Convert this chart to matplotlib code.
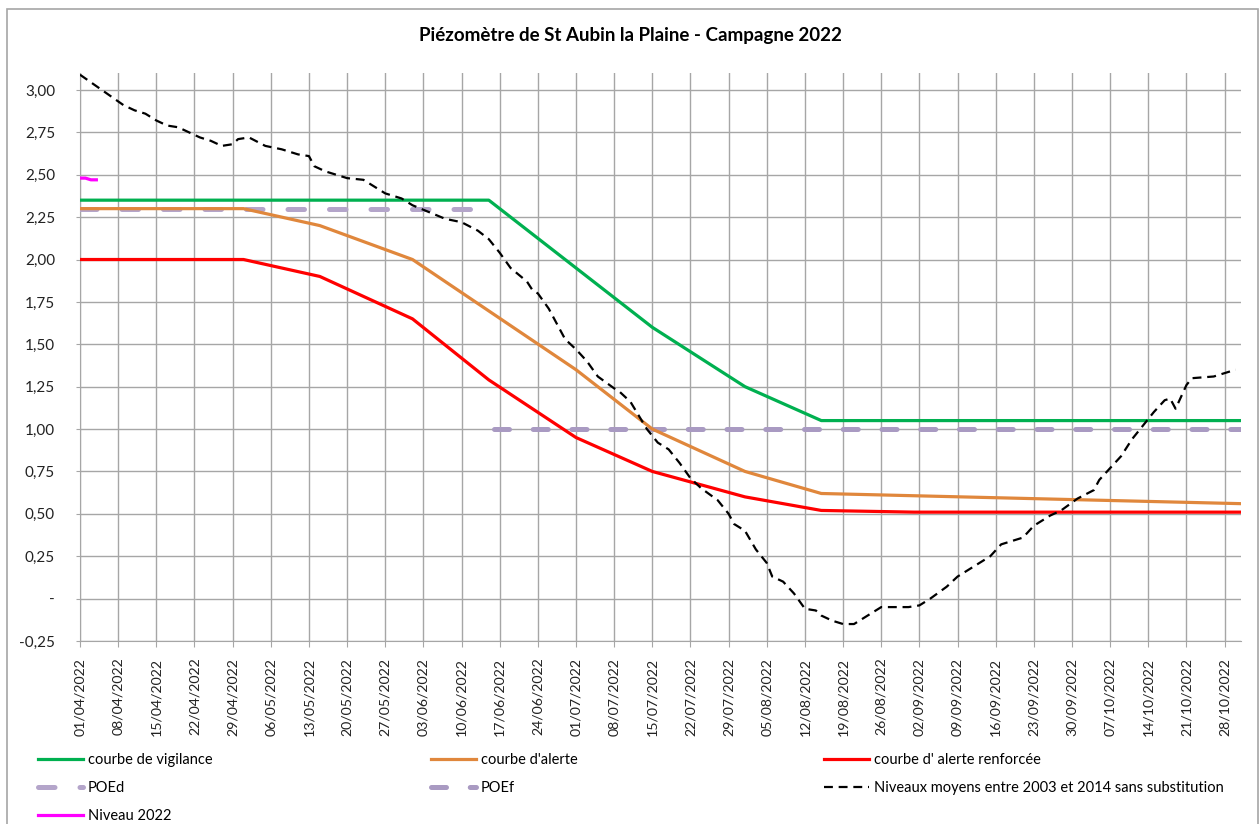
import pandas as pd
import matplotlib
matplotlib.use("Agg")
import matplotlib.pyplot as plt
import matplotlib.dates as mdates
from matplotlib.patches import Rectangle
from matplotlib.ticker import FuncFormatter, MultipleLocator

plt.rcParams['font.family'] = ['Lato', 'DejaVu Sans']

TITLE = "Piézomètre de St Aubin la Plaine - Campagne 2022"
START = "2022-04-01"
END = "2022-10-31"

# courbe de vigilance
vig_dates = ["2022-04-01", "2022-06-15", "2022-07-01", "2022-07-15", "2022-08-01", "2022-08-15", "2022-10-31"]
vig_vals = [2.35, 2.35, 1.95, 1.60, 1.25, 1.05, 1.05]

# courbe d'alerte
alerte_dates = ["2022-04-01", "2022-05-01", "2022-05-15", "2022-06-01", "2022-07-01", "2022-07-15", "2022-08-01", "2022-08-15", "2022-10-31"]
alerte_vals = [2.30, 2.30, 2.20, 2.00, 1.35, 1.00, 0.75, 0.62, 0.56]

# courbe d' alerte renforcée
renf_dates = ["2022-04-01", "2022-05-01", "2022-05-15", "2022-06-01", "2022-06-15", "2022-07-01", "2022-07-15", "2022-08-01", "2022-08-15", "2022-09-01", "2022-10-31"]
renf_vals = [2.00, 2.00, 1.90, 1.65, 1.29, 0.95, 0.75, 0.60, 0.52, 0.51, 0.51]

# POEd / POEf
poed_dates = ["2022-04-01", "2022-06-15"]
poed_vals = [2.30, 2.30]
poef_dates = ["2022-06-16", "2022-10-31"]
poef_vals = [1.00, 1.00]

# Niveau 2022
niv_dates = ["2022-04-01", "2022-04-02", "2022-04-03", "2022-04-04"]
niv_vals = [2.48, 2.48, 2.47, 2.47]

# Niveaux moyens entre 2003 et 2014 sans substitution
moy_dates = [
    "2022-04-01", "2022-04-05", "2022-04-09", "2022-04-11", "2022-04-13", "2022-04-15", "2022-04-17",
    "2022-04-19", "2022-04-21", "2022-04-23", "2022-04-25", "2022-04-27", "2022-04-29", "2022-04-30",
    "2022-05-02", "2022-05-05", "2022-05-08", "2022-05-11", "2022-05-13", "2022-05-14", "2022-05-16",
    "2022-05-17", "2022-05-20", "2022-05-23", "2022-05-25", "2022-05-27", "2022-05-30", "2022-06-01",
    "2022-06-04", "2022-06-07", "2022-06-10", "2022-06-13", "2022-06-15", "2022-06-17", "2022-06-19",
    "2022-06-22", "2022-06-23", "2022-06-24", "2022-06-26", "2022-06-29", "2022-07-01", "2022-07-03",
    "2022-07-05", "2022-07-08", "2022-07-09", "2022-07-11", "2022-07-14", "2022-07-16", "2022-07-18",
    "2022-07-20", "2022-07-22", "2022-07-24", "2022-07-27", "2022-07-29", "2022-07-30", "2022-08-01",
    "2022-08-03", "2022-08-05", "2022-08-06", "2022-08-08", "2022-08-10", "2022-08-12", "2022-08-14",
    "2022-08-15", "2022-08-17", "2022-08-19", "2022-08-21", "2022-08-24", "2022-08-26", "2022-08-28",
    "2022-08-31", "2022-09-02", "2022-09-04", "2022-09-07", "2022-09-09", "2022-09-12", "2022-09-15",
    "2022-09-17", "2022-09-21", "2022-09-23", "2022-09-26", "2022-09-28", "2022-10-01", "2022-10-04",
    "2022-10-05", "2022-10-07", "2022-10-09", "2022-10-11", "2022-10-13", "2022-10-15", "2022-10-17",
    "2022-10-18", "2022-10-19", "2022-10-21", "2022-10-22", "2022-10-26", "2022-10-29", "2022-10-30",
]
moy_vals = [
    3.09, 3.00, 2.91, 2.88, 2.86, 2.82, 2.79,
    2.78, 2.75, 2.72, 2.70, 2.67, 2.68, 2.71,
    2.72, 2.67, 2.65, 2.62, 2.61, 2.55, 2.52,
    2.51, 2.48, 2.47, 2.43, 2.39, 2.36, 2.32,
    2.28, 2.24, 2.22, 2.17, 2.12, 2.04, 1.95,
    1.87, 1.82, 1.80, 1.71, 1.53, 1.47, 1.40,
    1.31, 1.24, 1.22, 1.16, 1.00, 0.92, 0.88,
    0.80, 0.71, 0.65, 0.58, 0.50, 0.44, 0.40,
    0.29, 0.21, 0.13, 0.10, 0.03, -0.06, -0.07,
    -0.10, -0.13, -0.15, -0.15, -0.09, -0.05, -0.05,
    -0.05, -0.04, 0.00, 0.07, 0.13, 0.19, 0.25,
    0.32, 0.36, 0.43, 0.49, 0.52, 0.59, 0.64,
    0.70, 0.77, 0.84, 0.94, 1.02, 1.10, 1.17,
    1.18, 1.12, 1.26, 1.30, 1.31, 1.34, 1.35,
]

d = pd.to_datetime

fig = plt.figure(figsize=(12.6, 8.24), dpi=100)
ax = fig.add_axes([80 / 1260, 1 - 641 / 824, 1161 / 1260, 568 / 824])

grid_col = '#A6A6A6'

h_vig, = ax.plot(d(vig_dates), vig_vals, color='#00B050', lw=2.3, label='courbe de vigilance', zorder=4)
h_al, = ax.plot(d(alerte_dates), alerte_vals, color='#E0873C', lw=2.3, label="courbe d'alerte", zorder=4)
h_renf, = ax.plot(d(renf_dates), renf_vals, color='#FF0000', lw=2.3, label="courbe d' alerte renforcée", zorder=4)
h_poed, = ax.plot(d(poed_dates), poed_vals, color='#B4A5CA', lw=3.6, linestyle=(0, (3.3, 5.0)),
                  dash_capstyle='round', label='POEd', zorder=3)
h_poef, = ax.plot(d(poef_dates), poef_vals, color='#A99AC2', lw=3.6, linestyle=(0, (3.0, 4.75)),
                  dash_capstyle='round', label='POEf', zorder=3)
h_moy, = ax.plot(d(moy_dates), moy_vals, color='black', lw=1.6, linestyle=(0, (4, 2.6)),
                 label='Niveaux moyens entre 2003 et 2014 sans substitution', zorder=5)
h_niv, = ax.plot(d(niv_dates), niv_vals, color='#FF00FF', lw=2.3, label='Niveau 2022', zorder=6)

# axes
ax.set_xlim(d(START), d(END))
ax.set_ylim(-0.25, 3.10)
ax.yaxis.set_major_locator(MultipleLocator(0.25))


def yfmt(v, pos):
    if abs(v) < 1e-9:
        return '-'
    return f"{v:.2f}".replace('.', ',')


ax.yaxis.set_major_formatter(FuncFormatter(yfmt))
ax.set_xticks(pd.date_range(START, "2022-10-28", freq='7D'))
ax.xaxis.set_major_formatter(mdates.DateFormatter('%d/%m/%Y'))
plt.setp(ax.get_xticklabels(), rotation=90)

ax.grid(True, color=grid_col, lw=1.0)
ax.set_axisbelow(True)
for s in ['top', 'right']:
    ax.spines[s].set_visible(False)
for s in ['left', 'bottom']:
    ax.spines[s].set_color(grid_col)
ax.tick_params(axis='y', length=3, color=grid_col, pad=15, labelsize=11, labelcolor='#222222')
ax.tick_params(axis='x', length=4, color=grid_col, pad=8, labelsize=10.2, labelcolor='#222222')

fig.text(0.5, 1 - 35 / 824, TITLE, ha='center', va='center', fontsize=13.5, fontweight='bold')

# legend in three columns
cols = [
    ([h_vig, h_poed, h_niv], 38),
    ([h_al, h_poef], 431),
    ([h_renf, h_moy], 824),
]
for handles, xpix in cols:
    fig.legend(handles=handles, loc='upper left', bbox_to_anchor=(xpix / 1260, 1 - 753 / 824),
               frameon=False, fontsize=10.5, handlelength=3.1, handletextpad=0.3,
               labelspacing=0.95, borderpad=0, borderaxespad=0)

# chart border
fig.patches.append(Rectangle((6.5 / 1260, -0.01), 1251 / 1260, 1 - 8.7 / 824 + 0.01,
                             transform=fig.transFigure, fill=False, edgecolor=grid_col, lw=1.2))

fig.savefig('out.png', dpi=100)
